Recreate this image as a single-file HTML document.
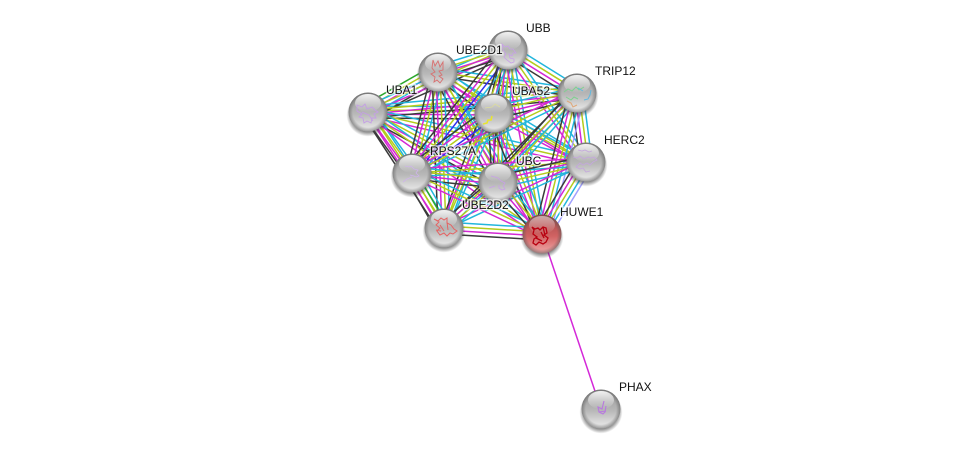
<!DOCTYPE html>
<html><head><meta charset="utf-8">
<style>
html,body{margin:0;padding:0;background:#fff;width:976px;height:454px;overflow:hidden}
svg{display:block}
text{font-family:"Liberation Sans",sans-serif;font-size:12px;fill:#111;}
.h{stroke:#fff;stroke-width:3px;stroke-opacity:.65;fill:#fff;paint-order:stroke}
.c{stroke:#22b6dc}.l{stroke:#b4cc1c}.m{stroke:#d428d4}.k{stroke:#3a3a3a}.b{stroke:#2f2ff0}.g{stroke:#2ca82c}.p{stroke:#a0a0ff}
</style></head><body>
<svg xmlns="http://www.w3.org/2000/svg" width="976" height="454" viewBox="0 0 976 454">
<defs>
<linearGradient id="b" x1="0" y1="0" x2="0" y2="1"><stop offset="0" stop-color="#969696"/><stop offset=".55" stop-color="#b8b8b8"/><stop offset="1" stop-color="#efefef"/></linearGradient>
<linearGradient id="r" x1="0" y1="0" x2="0" y2="1"><stop offset="0" stop-color="#a04646"/><stop offset=".55" stop-color="#d06262"/><stop offset="1" stop-color="#f2a8a8"/></linearGradient>
<radialGradient id="e"><stop offset=".78" stop-color="#555" stop-opacity="0"/><stop offset="1" stop-color="#555" stop-opacity=".55"/></radialGradient>
<linearGradient id="t" x1="0" y1="0" x2="0" y2="1"><stop offset="0" stop-color="#fff" stop-opacity=".9"/><stop offset="1" stop-color="#fff" stop-opacity="0"/></linearGradient>
<radialGradient id="s"><stop offset=".72" stop-color="#444" stop-opacity=".8"/><stop offset="1" stop-color="#444" stop-opacity="0"/></radialGradient>
<g id="sp"><circle cx="0" cy="3" r="21.5" fill="url(#s)"/><circle r="19.5" fill="url(#b)"/><circle r="19.5" fill="url(#e)"/><ellipse cx="0" cy="-9" rx="13" ry="9" fill="url(#t)"/></g>
<g id="sr"><circle cx="0" cy="3" r="21.5" fill="url(#s)"/><circle r="19.5" fill="url(#r)"/><circle r="19.5" fill="url(#e)"/><ellipse cx="0" cy="-9" rx="13" ry="9" fill="url(#t)" opacity=".6"/></g>
<g id="b4"><line class="c" x2="1" y1="-6" y2="-6"/><line class="l" x2="1" y1="-2" y2="-2"/><line class="m" x2="1" y1="2" y2="2"/><line class="k" x2="1" y1="6" y2="6"/></g>
<g id="b5"><line class="c" x2="1" y1="-8" y2="-8"/><line class="b" x2="1" y1="-4" y2="-4"/><line class="l" x2="1"/><line class="m" x2="1" y1="4" y2="4"/><line class="k" x2="1" y1="8" y2="8"/></g>
<g id="g5"><line class="g" x2="1" y1="-8" y2="-8"/><line class="l" x2="1" y1="-4" y2="-4"/><line class="m" x2="1"/><line class="c" x2="1" y1="4" y2="4"/><line class="k" x2="1" y1="8" y2="8"/></g>
<g id="p5"><line class="p" x2="1" y1="-8" y2="-8"/><line class="c" x2="1" y1="-4" y2="-4"/><line class="l" x2="1"/><line class="m" x2="1" y1="4" y2="4"/><line class="k" x2="1" y1="8" y2="8"/></g>
<g id="cg5"><line class="c" x2="1" y1="-8" y2="-8"/><line class="g" x2="1" y1="-4" y2="-4"/><line class="l" x2="1"/><line class="m" x2="1" y1="4" y2="4"/><line class="k" x2="1" y1="8" y2="8"/></g>
<g id="b3"><line class="c" x2="1" y1="-4" y2="-4"/><line class="l" x2="1"/><line class="m" x2="1" y1="4" y2="4"/></g>
<g id="k3"><line class="c" x2="1" y1="-4" y2="-4"/><line class="l" x2="1"/><line class="k" x2="1" y1="4" y2="4"/></g>
<g id="b2"><line class="c" x2="1" y1="-2" y2="-2"/><line class="m" x2="1" y1="2" y2="2"/></g>
</defs>
<g fill="none" stroke-width="1.5">
<use href="#g5" transform="matrix(70 -40 .496 .868 368 112)"/>
<use href="#b4" transform="matrix(126 1 -.008 1 368 112)"/>
<use href="#b4" transform="matrix(140 -62 .405 .914 368 112)"/>
<use href="#b4" transform="matrix(209 -19 .091 .996 368 112)"/>
<use href="#b3" transform="matrix(218 50 -.224 .975 368 112)"/>
<use href="#b4" transform="matrix(44 61 -.811 .585 368 112)"/>
<use href="#b4" transform="matrix(130 70 -.474 .881 368 112)"/>
<use href="#b4" transform="matrix(76 116 -.836 .548 368 112)"/>
<use href="#b3" transform="matrix(174 122 -.574 .819 368 112)"/>
<use href="#b4" transform="matrix(70 -22 .3 .954 438 72)"/>
<use href="#b4" transform="matrix(56 41 -.591 .807 438 72)"/>
<use href="#k3" transform="matrix(139 21 -.149 .989 438 72)"/>
<use href="#b3" transform="matrix(148 90 -.52 .854 438 72)"/>
<use href="#b4" transform="matrix(-26 101 -.968 -.249 438 72)"/>
<use href="#b4" transform="matrix(60 110 -.878 .479 438 72)"/>
<use href="#b4" transform="matrix(6 156 -.999 .038 438 72)"/>
<use href="#b3" transform="matrix(104 162 -.842 .54 438 72)"/>
<use href="#b4" transform="matrix(-14 63 -.977 -.217 508 50)"/>
<use href="#b4" transform="matrix(69 43 -.529 .849 508 50)"/>
<use href="#b3" transform="matrix(78 112 -.821 .571 508 50)"/>
<use href="#b5" transform="matrix(-96 123 -.788 -.615 508 50)"/>
<use href="#b4" transform="matrix(-10 132 -.997 -.076 508 50)"/>
<use href="#k3" transform="matrix(-64 178 -.941 -.338 508 50)"/>
<use href="#b3" transform="matrix(34 184 -.983 .182 508 50)"/>
<use href="#b4" transform="matrix(83 -20 .234 .972 494 113)"/>
<use href="#b3" transform="matrix(92 49 -.47 .883 494 113)"/>
<use href="#b5" transform="matrix(-82 60 -.591 -.807 494 113)"/>
<use href="#b4" transform="matrix(4 69 -.999 .058 494 113)"/>
<use href="#b3" transform="matrix(-50 115 -.917 -.399 494 113)"/>
<use href="#b4" transform="matrix(48 121 -.929 .369 494 113)"/>
<use href="#b4" transform="matrix(9 69 -.991 .129 577 93)"/>
<use href="#b3" transform="matrix(-165 80 -.436 -.9 577 93)"/>
<use href="#b4" transform="matrix(-79 89 -.748 -.664 577 93)"/>
<use href="#k3" transform="matrix(-133 135 -.712 -.702 577 93)"/>
<use href="#p5" transform="matrix(-35 141 -.97 -.241 577 93)"/>
<use href="#b3" transform="matrix(-174 11 -.063 -.998 586 162)"/>
<use href="#b4" transform="matrix(-88 20 -.222 -.976 586 162)"/>
<use href="#b2" transform="matrix(-142 66 -.421 -.907 586 162)"/>
<use href="#p5" transform="matrix(-44 72 -.853 -.521 586 162)"/>
<use href="#b4" transform="matrix(86 9 -.104 .994 412 173)"/>
<use href="#cg5" transform="matrix(32 55 -.865 .503 412 173)"/>
<use href="#b3" transform="matrix(130 61 -.425 .905 412 173)"/>
<use href="#b4" transform="matrix(-54 46 -.649 -.761 498 182)"/>
<use href="#b4" transform="matrix(44 52 -.764 .646 498 182)"/>
<use href="#b4" transform="matrix(98 6 -.061 .998 444 228)"/>
</g>
<line x1="542" y1="234" x2="601" y2="409" stroke="#d428d8" stroke-width="1.5"/>
<use href="#sp" x="508" y="50"/><path d="M502 44l3 3 3-1 2 3 3 0 3 4-3 0-1 3-3-2 1 4 4 1 0 3-3 1-4-3-3-3 2-3-3-4z" fill="none" stroke="#c8a0e8" stroke-width=".8"/>
<use href="#sp" x="438" y="72"/><path d="M433 60l2 6 3-5 2 6 3-5 0 8-4 1 3 4-3 1 4 3-3 4-3-3-3 2 1-5-4-3 4-2-3-4z" fill="none" stroke="#d87070" stroke-width=".9"/>
<use href="#sp" x="368" y="112"/><path d="M357 105l5 2 3-3 2 5 5-2 3 3 3 2-4 2 2 4-4 0-1 5-4-2-3 2-1-5-4-1 3-3-5-3z M362 112l7 3 4 6" fill="none" stroke="#c49ee6" stroke-width=".9"/>
<use href="#sp" x="494" y="113"/><path d="M483 124l4-1 1-3 3 0 1-4" fill="none" stroke="#e8e430" stroke-width="1.6"/><path d="M485 108l7-1 3-3 5 3" fill="none" stroke="#dcdc9c" stroke-width=".8"/>
<use href="#sp" x="577" y="93"/><path d="M564 92l4-3 4 2 4-4 3 3 5-3M566 97l5 3 3-3 4 2" fill="none" stroke="#80d090" stroke-width="1"/><path d="M584 100l4-1 2-4 1-5M578 88l5 3" fill="none" stroke="#60b8e0" stroke-width="1"/><path d="M567 101l4 2 2 4 4-2" fill="none" stroke="#e0a878" stroke-width="1"/>
<use href="#sp" x="586" y="162"/><path d="M573 157l4 1 3-2 4 3 4-2 3 1 3-1 3 3-4 2-3 3-3-2-4 2-3-2-4 4 4 2 3-1 3 4 4-1M578 150l4 1 3-1 4 2 3-1" fill="none" stroke="#c4a8dc" stroke-width=".9"/>
<use href="#sp" x="412" y="173"/><path d="M405 166l4 1 2-1 3 3 4 1-2 3 3 3-3 1-2-1-4-1M412 177l-5 2-4 3" fill="none" stroke="#ceb4ea" stroke-width=".8"/>
<use href="#sp" x="498" y="182"/><path d="M491 176l4 1 3 1 3 3 4 2-2 3 2 3-3 1-3-2 0-3M489 188l6-2" fill="none" stroke="#c8a0e8" stroke-width=".8"/>
<use href="#sp" x="444" y="228"/><path d="M434 219l4 2 3-3 3 2 3-2 0 5 4 2 3 4 3 2-4 3-3-1-3 3-3-3-4 2-3-4 3-3-4-3 3-3z M440 225l4 6M447 222l1 8M436 230l5 1" fill="none" stroke="#e46464" stroke-width="1"/>
<use href="#sr" x="542" y="234"/><path d="M532 227l3 2 3-1 2 2 3-3 3 1 1 5-3 2 4 3-2 4-3 2-4-2-3 3-3-2 1-4 3-2-4-3 1-4z M543 227l2 8M536 238l6 3M541 232l3 6" fill="none" stroke="#b80010" stroke-width="1.3"/>
<use href="#sp" x="601" y="409"/><path d="M604 401l-1 4-1 4-4-2 1 5 4 2 2-2 1-6M599 412l7-1" fill="none" stroke="#b878e0" stroke-width="1.1"/>
<text x="526" y="32" class="h">UBB</text><text x="526" y="32">UBB</text>
<text x="456" y="54" class="h">UBE2D1</text><text x="456" y="54">UBE2D1</text>
<text x="386" y="94" class="h">UBA1</text><text x="386" y="94">UBA1</text>
<text x="512" y="95" class="h">UBA52</text><text x="512" y="95">UBA52</text>
<text x="595" y="75" class="h">TRIP12</text><text x="595" y="75">TRIP12</text>
<text x="604" y="144" class="h">HERC2</text><text x="604" y="144">HERC2</text>
<text x="430" y="155" class="h">RPS27A</text><text x="430" y="155">RPS27A</text>
<text x="516" y="165" class="h">UBC</text><text x="516" y="165">UBC</text>
<text x="462" y="209" class="h">UBE2D2</text><text x="462" y="209">UBE2D2</text>
<text x="560" y="216" class="h">HUWE1</text><text x="560" y="216">HUWE1</text>
<text x="619" y="391" class="h">PHAX</text><text x="619" y="391">PHAX</text>
</svg>
</body></html>
